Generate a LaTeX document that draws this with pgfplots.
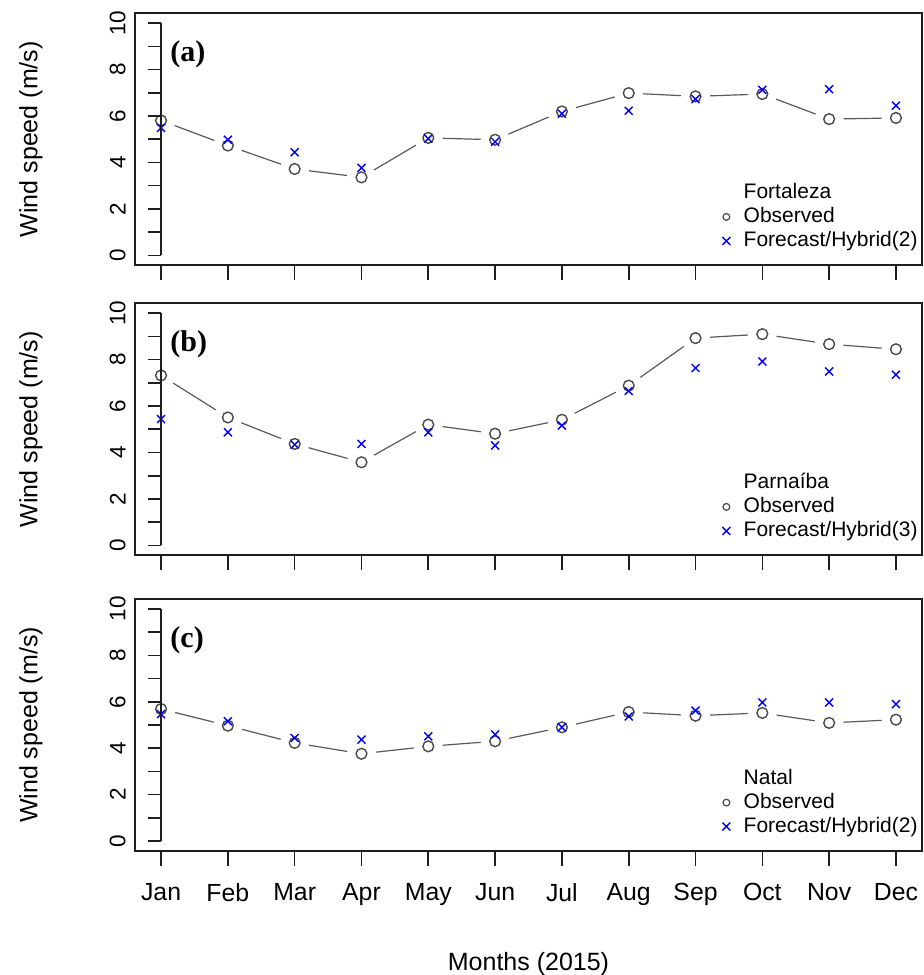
\documentclass[border=0pt]{standalone}
\usepackage{pgfplots}
\usepackage{pgfplotstable}
\pgfplotsset{compat=1.18}
\usepackage{fontspec}
\setmainfont{Liberation Sans}
\newfontfamily\tnr{Liberation Serif}
\definecolor{obsgray}{HTML}{4A4A4A}
\definecolor{linegray}{HTML}{5A5A5A}
\definecolor{axblack}{HTML}{1E1E1E}

\pgfplotstableread{
m obs fc
1 5.81 5.49
2 4.73 4.98
3 3.72 4.44
4 3.36 3.77
5 5.06 5.03
6 4.98 4.89
7 6.20 6.10
8 6.99 6.23
9 6.85 6.73
10 6.95 7.13
11 5.87 7.16
12 5.92 6.45
}\dataA
\pgfplotstableread{
m obs fc
1 7.32 5.44
2 5.51 4.87
3 4.37 4.34
4 3.58 4.37
5 5.20 4.87
6 4.81 4.30
7 5.41 5.16
8 6.88 6.65
9 8.93 7.64
10 9.10 7.92
11 8.67 7.49
12 8.45 7.35
}\dataB
\pgfplotstableread{
m obs fc
1 5.69 5.47
2 4.97 5.16
3 4.23 4.44
4 3.76 4.37
5 4.08 4.51
6 4.30 4.59
7 4.90 4.90
8 5.56 5.37
9 5.40 5.62
10 5.52 5.97
11 5.09 5.97
12 5.23 5.90
}\dataC

\pgfplotsset{
  geom/.style={
    scale only axis, width=393.5pt, height=126pt,
    xmin=0.61, xmax=12.39, ymin=-0.43, ymax=10.43,
    clip=false, anchor=north west,
  },
  panel/.style={
    geom,
    axis line style={line width=0.9pt, axblack},
    xtick={1,...,12}, xtick pos=left, tick align=outside,
    major tick length=7.5pt,
    tick style={line width=0.8pt, axblack},
    ytick=\empty,
    legend cell align=left,
    legend style={draw=none, fill=none, at={(1,0)}, anchor=south east,
      xshift=-1.5pt, yshift=6.5pt, inner sep=0pt,
      font=\fontsize{10.5}{12}\selectfont,
      nodes={inner sep=0.5pt, text height=7.8pt, text depth=2.2pt},
      row sep=1pt, column sep=6.2pt},
  },
  overlayax/.style={geom, hide axis},
}

\newcommand{\yaxisdeco}{%
  \draw[line width=0.8pt, axblack] (axis cs:1,0) -- (axis cs:1,10);
  \pgfplotsinvokeforeach{0,...,10}{\draw[line width=0.8pt, axblack] (axis cs:1,##1) -- ++(-6.5pt,0pt);}
  \pgfplotsinvokeforeach{0,2,4,6,8,10}{\node[rotate=90, anchor=south, inner sep=0pt, font=\fontsize{11.25}{12}\selectfont] at ([xshift=-17.5pt]axis cs:1,##1) {##1};}
  \node[rotate=90, inner sep=0pt, font=\fontsize{12.5}{14}\selectfont] at ([xshift=-52pt]rel axis cs:0,0.5) {Wind speed (m/s)};
}

\newcommand{\panelplots}[4]{%
  \addplot[color=linegray, line width=0.6pt, forget plot] table[x=m, y=obs] {#1};
  \addplot[only marks, mark=*, mark size=7pt, color=white, forget plot] table[x=m, y=obs] {#1};
  \addplot[only marks, mark=o, mark size=2.7pt, mark options={draw=obsgray, line width=0.7pt}, forget plot] table[x=m, y=obs] {#1};
  \addplot[only marks, mark=x, mark size=2.8pt, color=blue, mark options={line width=0.7pt}, forget plot] table[x=m, y=fc] {#1};
  \node[anchor=west, inner sep=0pt, font=\tnr\bfseries\fontsize{15}{16}\selectfont] at ([xshift=4.5pt]axis cs:1,8.65) {(#2)};
  \addlegendimage{empty legend}\addlegendentry{#3}
  \addlegendimage{only marks, mark=o, mark size=1.7pt, color=obsgray, mark options={line width=0.6pt}}\addlegendentry{Observed}
  \addlegendimage{only marks, mark=x, mark size=2.8pt, color=blue, mark options={line width=0.7pt}}\addlegendentry{Forecast/Hybrid(#4)}
}

\begin{document}
\begin{tikzpicture}
\useasboundingbox (0,0) rectangle (461.5pt,487.5pt);

\begin{axis}[panel, at={(67.5pt,480.85pt)}, xticklabels={}]
\panelplots{\dataA}{a}{Fortaleza}{2}
\end{axis}
\begin{axis}[overlayax, at={(67.5pt,480.85pt)}]
\yaxisdeco
\end{axis}

\begin{axis}[panel, at={(67.5pt,335.85pt)}, xticklabels={}]
\panelplots{\dataB}{b}{Parnaíba}{3}
\end{axis}
\begin{axis}[overlayax, at={(67.5pt,335.85pt)}]
\yaxisdeco
\end{axis}

\begin{axis}[panel, at={(67.5pt,188pt)},
  xticklabels={Jan,Feb,Mar,Apr,May,Jun,Jul,Aug,Sep,Oct,Nov,Dec},
  xticklabel style={font=\fontsize{12.4}{14}\selectfont, yshift=-5pt}]
\panelplots{\dataC}{c}{Natal}{2}
\end{axis}
\begin{axis}[overlayax, at={(67.5pt,188pt)}]
\yaxisdeco
\end{axis}

\node[anchor=base, font=\fontsize{12.5}{14}\selectfont] at (264.25pt,2pt) {Months (2015)};
\end{tikzpicture}
\end{document}
